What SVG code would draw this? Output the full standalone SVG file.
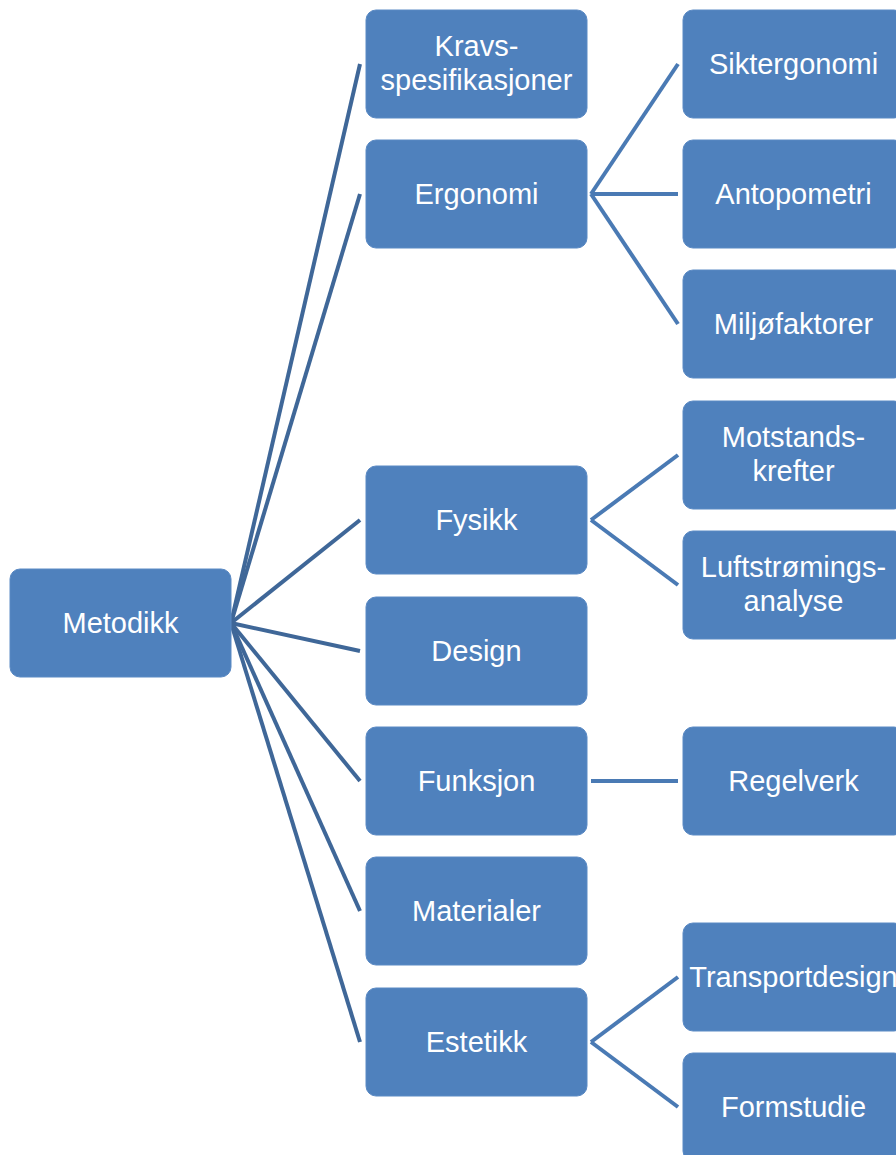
<svg xmlns="http://www.w3.org/2000/svg" width="896" height="1155" viewBox="0 0 896 1155">
<style>
.box{fill:#4f81bd;stroke:#5b8ac4;stroke-width:1}
.t{font-family:"Liberation Sans",Arial,sans-serif;font-size:29px;fill:#ffffff;text-anchor:middle}
.c1{stroke:#3f6798;stroke-width:4;fill:none}
.c2{stroke:#4a7ab4;stroke-width:4;fill:none}
</style>
<rect width="896" height="1155" fill="#ffffff"/>
<g id="connectors">
<line class="c1" x1="231" y1="623" x2="360" y2="64"/>
<line class="c1" x1="231" y1="623" x2="360" y2="194"/>
<line class="c1" x1="231" y1="623" x2="360" y2="520"/>
<line class="c1" x1="231" y1="623" x2="360" y2="651"/>
<line class="c1" x1="231" y1="623" x2="360" y2="781"/>
<line class="c1" x1="231" y1="623" x2="360" y2="911"/>
<line class="c1" x1="231" y1="623" x2="360" y2="1042"/>
<line class="c2" x1="591" y1="194" x2="678" y2="64"/>
<line class="c2" x1="591" y1="194" x2="678" y2="194"/>
<line class="c2" x1="591" y1="194" x2="678" y2="324"/>
<line class="c2" x1="591" y1="520" x2="678" y2="455"/>
<line class="c2" x1="591" y1="520" x2="678" y2="585"/>
<line class="c2" x1="591" y1="781" x2="678" y2="781"/>
<line class="c2" x1="591" y1="1042" x2="678" y2="977"/>
<line class="c2" x1="591" y1="1042" x2="678" y2="1107"/>
</g>
<g id="metodikk"><rect class="box" x="10" y="569" width="221" height="108" rx="10"/><text class="t" x="120.5" y="633">Metodikk</text></g>
<g id="kravs"><rect class="box" x="366" y="10" width="221" height="108" rx="10"/><text class="t" x="476.5" y="56">Kravs-</text><text class="t" x="476.5" y="90">spesifikasjoner</text></g>
<g id="ergonomi"><rect class="box" x="366" y="140" width="221" height="108" rx="10"/><text class="t" x="476.5" y="204">Ergonomi</text></g>
<g id="fysikk"><rect class="box" x="366" y="466" width="221" height="108" rx="10"/><text class="t" x="476.5" y="530">Fysikk</text></g>
<g id="design"><rect class="box" x="366" y="597" width="221" height="108" rx="10"/><text class="t" x="476.5" y="661">Design</text></g>
<g id="funksjon"><rect class="box" x="366" y="727" width="221" height="108" rx="10"/><text class="t" x="476.5" y="791">Funksjon</text></g>
<g id="materialer"><rect class="box" x="366" y="857" width="221" height="108" rx="10"/><text class="t" x="476.5" y="921">Materialer</text></g>
<g id="estetikk"><rect class="box" x="366" y="988" width="221" height="108" rx="10"/><text class="t" x="476.5" y="1052">Estetikk</text></g>
<g id="siktergonomi"><rect class="box" x="683" y="10" width="221" height="108" rx="10"/><text class="t" x="793.5" y="74">Siktergonomi</text></g>
<g id="antopometri"><rect class="box" x="683" y="140" width="221" height="108" rx="10"/><text class="t" x="793.5" y="204">Antopometri</text></g>
<g id="miljofaktorer"><rect class="box" x="683" y="270" width="221" height="108" rx="10"/><text class="t" x="793.5" y="334">Miljøfaktorer</text></g>
<g id="motstandskrefter"><rect class="box" x="683" y="401" width="221" height="108" rx="10"/><text class="t" x="793.5" y="447">Motstands-</text><text class="t" x="793.5" y="481">krefter</text></g>
<g id="luftstromingsanalyse"><rect class="box" x="683" y="531" width="221" height="108" rx="10"/><text class="t" x="793.5" y="577">Luftstrømings-</text><text class="t" x="793.5" y="611">analyse</text></g>
<g id="regelverk"><rect class="box" x="683" y="727" width="221" height="108" rx="10"/><text class="t" x="793.5" y="791">Regelverk</text></g>
<g id="transportdesign"><rect class="box" x="683" y="923" width="221" height="108" rx="10"/><text class="t" x="793.5" y="987">Transportdesign</text></g>
<g id="formstudie"><rect class="box" x="683" y="1053" width="221" height="108" rx="10"/><text class="t" x="793.5" y="1117">Formstudie</text></g>
</svg>
